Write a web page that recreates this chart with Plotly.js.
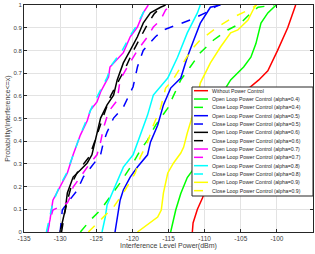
<!DOCTYPE html>
<html><head><meta charset="utf-8">
<script src="https://cdn.plot.ly/plotly-3.0.1.min.js"></script>
<style>html,body{margin:0;padding:0;background:#fff}#chart{width:315px;height:254px}</style>
</head><body><div id="chart"></div>
<script>
// Series names (legend order)
const seriesNames = [
  "Without Power Control",
  "Open Loop Power Control (alpha=0.4)",
  "Close Loop Power Control (alpha=0.4)",
  "Open Loop Power Control (alpha=0.5)",
  "Close Loop Power Control (alpha=0.5)",
  "Open Loop Power Control (alpha=0.6)",
  "Close Loop Power Control (alpha=0.6)",
  "Open Loop Power Control (alpha=0.7)",
  "Close Loop Power Control (alpha=0.7)",
  "Open Loop Power Control (alpha=0.8)",
  "Close Loop Power Control (alpha=0.8)",
  "Open Loop Power Control (alpha=0.9)",
  "Close Loop Power Control (alpha=0.9)"
];

// Interference power (dBm) and CDF probability for each series
const noPC_x = [-111.7,-111.6,-111.0,-110.3,-108.6,-106.5,-104.0,-102.5,-101.25,-99.9,-98.5,-97.4];
const noPC_p = [0,0.04,0.10,0.15,0.30,0.45,0.63,0.67,0.71,0.80,0.90,1.0];

const open04_x = [-114.7,-114.0,-113.3,-112.4,-111.7,-110.2,-109.0,-107.9,-107.1,-106.4,-105.4,-104.6,-103.6,-102.9,-102.2,-101.25,-100.1];
const open04_p = [0,0.097,0.17,0.24,0.27,0.40,0.50,0.58,0.634,0.67,0.70,0.727,0.77,0.83,0.92,0.965,1.0];

const close04_x = [-127.2,-125.8,-124.4,-123.1,-121.7,-119.9,-118.9,-117.9,-116.8,-115.1,-114.3,-113.3,-112.0,-110.6,-108.75,-106.8,-105.0,-103.6,-102.6,-100.4];
const close04_p = [0,0.053,0.097,0.154,0.216,0.304,0.36,0.405,0.47,0.546,0.603,0.67,0.727,0.79,0.846,0.89,0.92,0.965,0.99,1.0];

const open05_x = [-122.4,-122.1,-121.7,-121.25,-120.3,-119.3,-117.9,-117.5,-116.5,-115.7,-114.7,-113.3,-112.4,-111.5,-110.6,-109.2,-107.8];
const open05_p = [0,0.066,0.14,0.185,0.242,0.286,0.34,0.396,0.47,0.56,0.634,0.678,0.77,0.846,0.92,0.99,1.0];

const close05_x = [-130.0,-129.7,-129.0,-127.6,-126.8,-124.4,-124.0,-123.5,-122.6,-121.25,-119.9,-119.3,-118.5,-116.8,-115.7,-114.0,-112.0,-109.9,-108.1];
const close05_p = [0,0.097,0.128,0.185,0.242,0.34,0.396,0.44,0.502,0.55,0.64,0.727,0.80,0.86,0.89,0.91,0.934,0.965,1.0];

const open06_x = [-130.0,-129.3,-129.0,-128.2,-127.2,-126.25,-125.6,-124.9,-124.4,-123.5,-122.6,-122.1,-121.25,-120.3,-119.3,-118.5,-117.5,-116.1,-115.4];
const open06_p = [0,0.097,0.172,0.242,0.273,0.304,0.34,0.427,0.502,0.56,0.603,0.67,0.745,0.80,0.86,0.92,0.965,0.99,1.0];

const close06_x = [-129.8,-129.4,-128.9,-128.3,-127.5,-126.0,-125.2,-124.5,-123.8,-123.0,-122.0,-121.0,-120.0,-119.0,-118.0,-117.0,-115.8];
const close06_p = [0,0.08,0.15,0.22,0.27,0.33,0.40,0.47,0.53,0.60,0.66,0.72,0.79,0.85,0.91,0.96,1.0];

const open07_x = [-131.8,-131.4,-131.0,-130.0,-129.0,-128.2,-127.2,-126.25,-125.8,-124.9,-124.4,-123.3,-123.1,-121.25,-120.3,-119.3,-118.5,-117.8];
const open07_p = [0,0.053,0.14,0.198,0.26,0.34,0.427,0.49,0.537,0.573,0.617,0.683,0.727,0.79,0.86,0.903,0.965,1.0];

const close07_x = [-131.7,-131.4,-131.0,-129.0,-128.6,-128.2,-127.2,-126.25,-124.9,-124.4,-124.0,-123.3,-122.1,-121.7,-120.7,-119.3,-117.9,-117.1,-116.1,-115.4,-114.7];
const close07_p = [0,0.053,0.097,0.128,0.154,0.198,0.242,0.286,0.34,0.396,0.458,0.53,0.58,0.67,0.727,0.80,0.86,0.903,0.934,0.978,1.0];

const open08_x = [-124.2,-123.75,-123.5,-122.8,-122.1,-121.25,-119.9,-118.9,-117.9,-117.1,-115.1,-113.75,-112.4,-111.0,-110.6];
const open08_p = [0,0.066,0.119,0.172,0.23,0.286,0.34,0.427,0.515,0.603,0.678,0.77,0.877,0.965,1.0];

const close08_x = [-131.9,-131.5,-131.0,-130.1,-129.1,-128.3,-127.3,-126.4,-125.6,-124.5,-123.5,-123.0,-121.4,-120.4,-119.4,-118.6,-117.9];
const close08_p = [0,0.06,0.13,0.20,0.26,0.33,0.42,0.49,0.55,0.62,0.68,0.73,0.80,0.86,0.91,0.96,1.0];

const open09_x = [-119.3,-117.5,-116.5,-116.0,-115.7,-115.1,-114.3,-113.3,-112.9,-112.4,-111.9,-111.1,-110.6,-109.2,-107.8,-106.4,-105.4,-104.0,-103.3,-102.9];
const open09_p = [0,0.044,0.066,0.097,0.172,0.26,0.304,0.348,0.374,0.436,0.49,0.573,0.656,0.745,0.815,0.877,0.89,0.934,0.978,1.0];

const close09_x = [-126.1,-124.4,-122.6,-121.25,-119.6,-118.9,-117.9,-117.1,-116.1,-115.4,-114.4,-113.3,-111.9,-110.6,-108.2,-106.0,-103.9,-102.8];
const close09_p = [0,0.053,0.11,0.172,0.26,0.33,0.396,0.47,0.546,0.634,0.67,0.727,0.80,0.846,0.903,0.947,0.978,1.0];

const xTicks = [-135,-130,-125,-120,-115,-110,-105,-100,-95];
const yTicks = [0,0.1,0.2,0.3,0.4,0.5,0.6,0.7,0.8,0.9,1];

const seriesX = [noPC_x,open04_x,close04_x,open05_x,close05_x,open06_x,close06_x,open07_x,close07_x,open08_x,close08_x,open09_x,close09_x];
const seriesP = [noPC_p,open04_p,close04_p,open05_p,close05_p,open06_p,close06_p,open07_p,close07_p,open08_p,close08_p,open09_p,close09_p];
const colors = ["#ff0000","#00ff00","#00ff00","#0000ff","#0000ff","#000000","#000000","#ff00ff","#ff00ff","#00ffff","#00ffff","#ffff00","#ffff00"];
const dashes = ["solid","solid","dash","solid","dash","solid","dash","solid","dash","solid","dash","solid","dash"];

const traces = seriesNames.map((n,i)=>({
  type:"scatter", mode:"lines", name:n, x:seriesX[i], y:seriesP[i],
  line:{color:colors[i], width:1.5, dash:dashes[i]}, showlegend:false
}));

// custom compact legend (plot area px: x 24..313, y 5..232)
const L=24, R=313, T=5, B=232;
const px2x = v => (v-L)/(R-L);
const px2y = v => (B-v)/(B-T);
const shapes = [{type:"rect", xref:"paper", yref:"paper", x0:px2x(192), x1:1, y0:px2y(196), y1:px2y(87),
  line:{color:"#262626", width:1}, fillcolor:"#ffffff", layer:"above"}];
const annotations = [];
seriesNames.forEach((n,i)=>{
  const yy = px2y(90.7 + 8.33*i);
  shapes.push({type:"line", xref:"paper", yref:"paper", x0:px2x(194), x1:px2x(208), y0:yy, y1:yy,
    line:{color:colors[i], width:1.5, dash:dashes[i]}, layer:"above"});
  annotations.push({xref:"paper", yref:"paper", x:px2x(210), y:yy, xanchor:"left", yanchor:"middle",
    text:n, showarrow:false, font:{family:"Liberation Sans, Arial", size:5.2, color:"#262626"}});
});

const axisCommon = {showline:true, mirror:"ticks", linecolor:"#262626", linewidth:1,
  ticks:"inside", ticklen:3, tickcolor:"#262626", showgrid:true, gridcolor:"#e3e3e3", gridwidth:1,
  zeroline:false, tickfont:{family:"Liberation Sans, Arial", size:6.5, color:"#404040"}};

const layout = {
  width:315, height:254, margin:{l:24, r:2, t:5, b:22},
  paper_bgcolor:"#ffffff", plot_bgcolor:"#ffffff", showlegend:false,
  xaxis:Object.assign({}, axisCommon, {range:[-135,-95], tickvals:xTicks, ticktext:xTicks.map(String),
    title:{text:"Interference Level Power(dBm)", font:{family:"Liberation Sans, Arial", size:7, color:"#404040"}, standoff:2}}),
  yaxis:Object.assign({}, axisCommon, {range:[0,1], tickvals:yTicks, ticktext:yTicks.map(String),
    tickfont:{family:"Liberation Sans, Arial", size:6, color:"#404040"},
    title:{text:"Probability(Interference<=x)", font:{family:"Liberation Sans, Arial", size:7, color:"#404040"}, standoff:2}}),
  shapes:shapes, annotations:annotations
};
Plotly.newPlot("chart", traces, layout, {staticPlot:true, displayModeBar:false});
</script></body></html>
